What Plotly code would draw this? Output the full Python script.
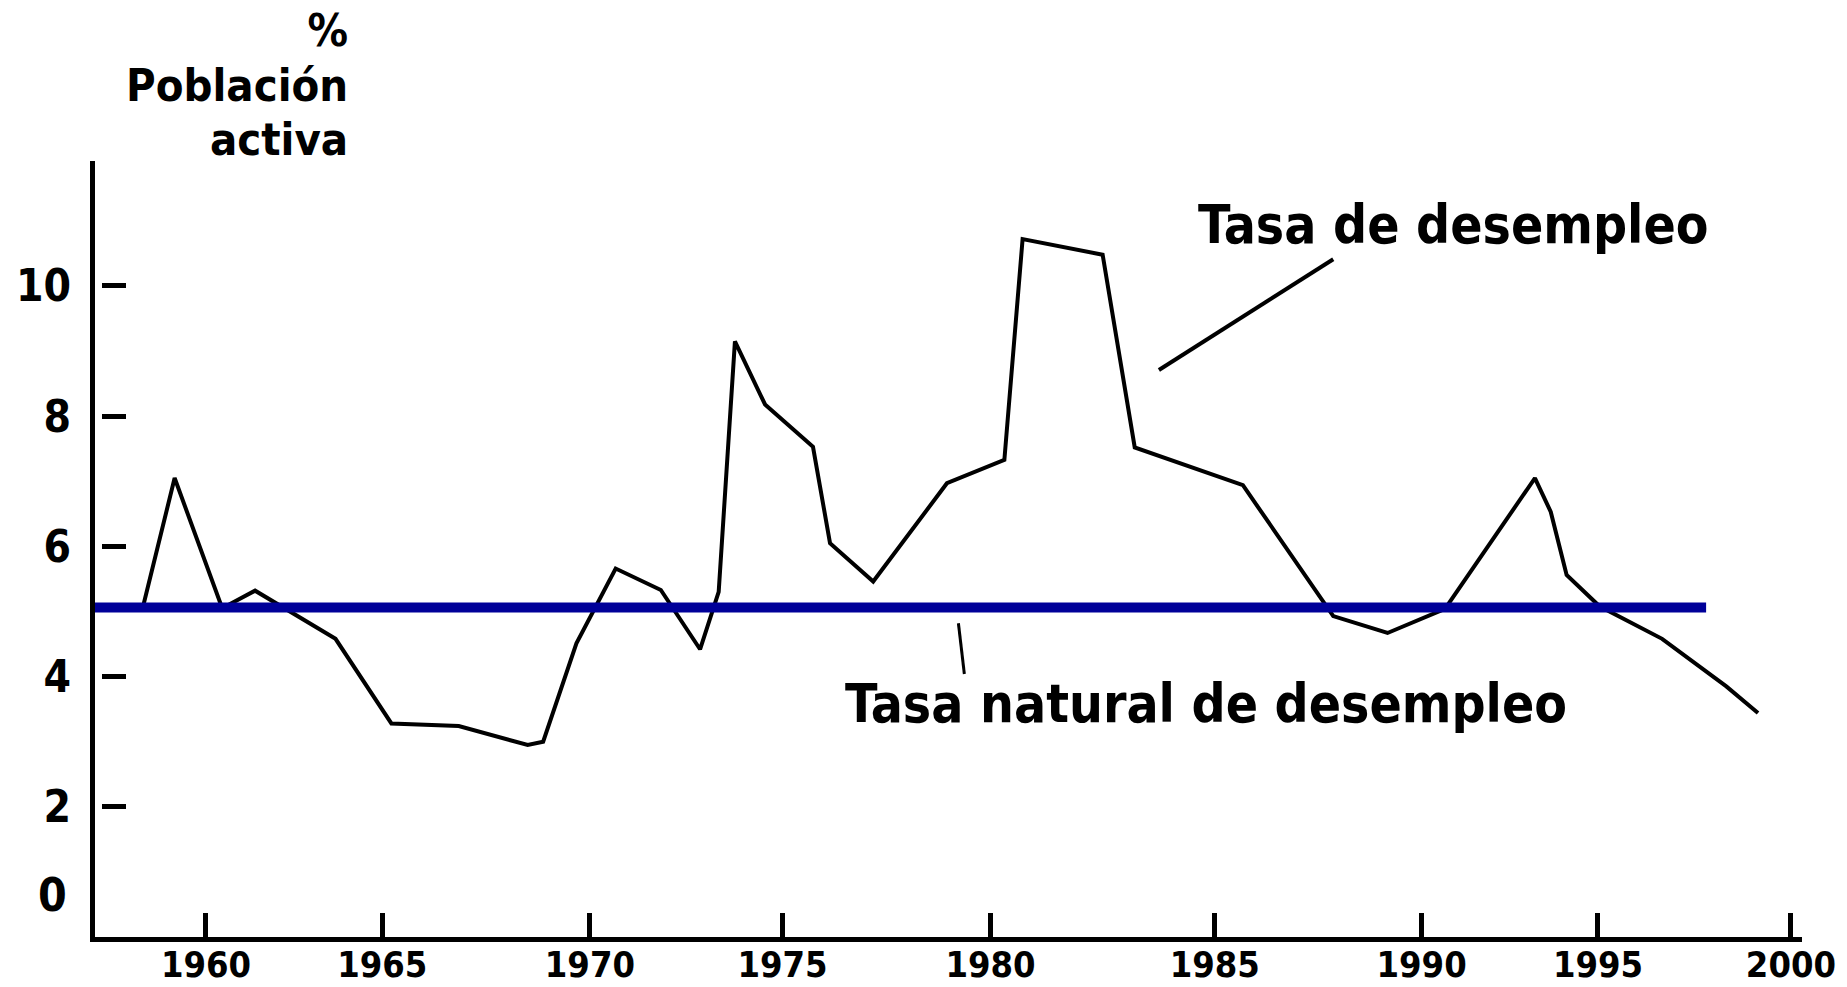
import plotly.graph_objects as go

# ---- data ----
years = [1958.41, 1959.21, 1960.41, 1961.24, 1963.27, 1964.68, 1966.38, 1968.12, 1968.51, 1969.35,
         1970.34, 1971.48, 1972.47, 1972.94, 1973.35, 1974.11, 1975.32, 1975.75, 1976.84, 1978.70,
         1980.15, 1980.61, 1982.63, 1983.44, 1986.17, 1988.45, 1989.82, 1991.27, 1993.54, 1993.94,
         1994.34, 1995.17, 1996.75, 1998.37, 1999.17]
unemployment = [5.07, 7.05, 5.05, 5.32, 4.58, 3.28, 3.24, 2.95, 3.00, 4.51,
                5.66, 5.33, 4.42, 5.30, 9.15, 8.18, 7.53, 6.05, 5.46, 6.97,
                7.33, 10.72, 10.48, 7.52, 6.94, 4.93, 4.67, 5.04, 7.05, 6.53,
                5.56, 5.08, 4.58, 3.85, 3.44]

natural_years = [1957.2, 1997.86]
natural_rate = [5.06, 5.06]

x_tick_pos = [1960.0, 1964.45, 1969.69, 1974.55, 1979.80, 1985.46, 1990.68, 1995.13, 2000.0]
x_tick_labels = ["1960", "1965", "1970", "1975", "1980", "1985", "1990", "1995", "2000"]
y_tick_vals = [2, 4, 6, 8, 10]
y_tick_labels = ["2", "4", "6", "8", "10"]

label_unemp = "Tasa de desempleo"
label_natural = "Tasa natural de desempleo"
y_title_lines = ["%", "Población", "activa"]

X_RANGE = [1957.2, 2000.28]
Y_RANGE = [0, 11.92]

FONT = "DejaVu Sans Condensed, DejaVu Sans, Verdana, sans-serif"

fig = go.Figure()
# natural rate drawn on the overlaid axis (same range) so that axis carries the detached ticks
fig.add_trace(go.Scatter(x=natural_years, y=natural_rate, mode="lines", yaxis="y2",
                         line=dict(color="#000099", width=10), hoverinfo="skip"))
fig.add_trace(go.Scatter(x=years, y=unemployment, mode="lines",
                         line=dict(color="black", width=4)))

# pointer lines
fig.add_shape(type="line", xref="x", yref="y", x0=1984.05, y0=8.71, x1=1988.45, y1=10.41,
              line=dict(color="black", width=4))
fig.add_shape(type="line", xref="x", yref="y", x0=1978.99, y0=4.82, x1=1979.14, y1=4.04,
              line=dict(color="black", width=3))

bold = lambda s: dict(family=FONT, size=s, color="black", weight="bold")

fig.add_annotation(x=1991.49, y=10.94, xref="x", yref="y", text=label_unemp, showarrow=False,
                   xanchor="center", yanchor="middle", font=bold(53))
fig.add_annotation(x=1985.23, y=3.58, xref="x", yref="y", text=label_natural, showarrow=False,
                   xanchor="center", yanchor="middle", font=bold(53))

# y-axis title: one right-aligned block, tight line spacing (base size sets spacing)
W, H = 1847, 987
L, R, T, B = 95, 45, 161, 50
pw, ph = W - L - R, H - T - B
def px(xp):
    return (xp - L) / pw
def py(yp):
    return (H - B - yp) / ph
title_text = "<br>".join('<span style="font-size:45px">%s</span>' % s for s in y_title_lines)
fig.add_annotation(x=px(350), y=py(85), xref="paper", yref="paper", text=title_text,
                   showarrow=False, xanchor="right", yanchor="middle", align="right",
                   font=bold(42))
# "0" label
fig.add_annotation(x=px(52), y=py(895), xref="paper", yref="paper", text="0",
                   showarrow=False, xanchor="center", yanchor="middle", font=bold(46))

fig.update_layout(
    width=W, height=H, autosize=False,
    margin=dict(l=L, r=R, t=T, b=B, autoexpand=False),
    paper_bgcolor="white", plot_bgcolor="white",
    showlegend=False,
    xaxis=dict(range=X_RANGE, showgrid=False, zeroline=False, showline=True, automargin=False,
               linecolor="black", linewidth=5, ticks="inside", ticklen=24, tickwidth=5,
               tickcolor="black", tickvals=x_tick_pos, ticktext=x_tick_labels,
               tickfont=bold(36), ticklabelstandoff=-8),
    yaxis=dict(range=Y_RANGE, showgrid=False, zeroline=False, showline=True, automargin=False,
               linecolor="black", linewidth=5, ticks="", showticklabels=False),
    yaxis2=dict(range=Y_RANGE, overlaying="y", anchor="free", position=px(101),
                side="left", showgrid=False, zeroline=False, showline=False, automargin=False,
                ticks="inside", ticklen=24, tickwidth=5, tickcolor="black",
                tickvals=y_tick_vals, ticktext=y_tick_labels, tickfont=bold(44),
                ticklabelstandoff=30),
)

fig.write_html("out.html", config={"displayModeBar": False},
               post_script="document.body.style.margin='0';")
